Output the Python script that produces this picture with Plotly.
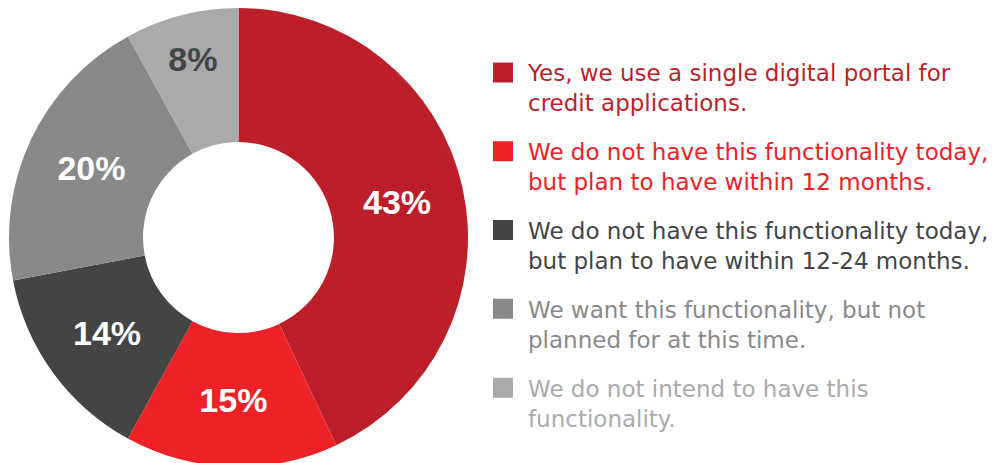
"""Donut chart: use of a single digital portal for credit applications."""

import plotly.graph_objects as go

# Survey answers, clockwise from 12 o'clock
labels = [
    "Yes, we use a single digital portal for<br>credit applications.",
    "We do not have this functionality today,<br>but plan to have within 12 months.",
    "We do not have this functionality today,<br>but plan to have within 12-24 months.",
    "We want this functionality, but not<br>planned for at this time.",
    "We do not intend to have this<br>functionality.",
]
values = [43, 15, 14, 20, 8]
colors = ["#BC1F29", "#EC2227", "#444444", "#898989", "#A9AAAC"]
label_colors = ["#FFFFFF", "#FFFFFF", "#FFFFFF", "#FFFFFF", "#444444"]

W, H = 995, 463
# the html page puts an 8px body margin round the figure; compensate for it
OFF = 8

fig = go.Figure()

fig.add_trace(go.Pie(
    labels=labels,
    values=values,
    sort=False,
    direction="clockwise",
    rotation=0,
    hole=0.416,
    marker=dict(colors=colors, line=dict(width=0)),
    texttemplate="%{value}%",
    textposition="inside",
    insidetextorientation="horizontal",
    textfont=dict(family="Liberation Sans", size=34, color=label_colors, weight="bold"),
    domain=dict(x=[(9 - OFF) / W, (468 - OFF) / W], y=[4 / H, 1]),
    showlegend=False,
    hoverinfo="label+percent",
))

# Legend entries (one group each so we can space them out)
for i, (lab, col) in enumerate(zip(labels, colors)):
    fig.add_trace(go.Scatter(
        x=[None], y=[None],
        mode="markers",
        name=f"<span style='color:{col}'>{lab}</span>",
        legendgroup=f"g{i}",
        marker=dict(symbol="square", size=16, color=col, line=dict(width=4, color=col)),
    ))

fig.update_xaxes(visible=False)
fig.update_yaxes(visible=False)

fig.update_layout(
    width=W,
    height=H,
    margin=dict(l=0, r=0, t=0, b=0),
    paper_bgcolor="white",
    plot_bgcolor="white",
    legend=dict(
        x=470 / W,
        xanchor="left",
        y=1 - 43 / H,
        yanchor="top",
        valign="top",
        traceorder="grouped",
        tracegroupgap=16,
        itemsizing="trace",
        itemwidth=40,
        font=dict(family="DejaVu Sans", size=23, color="#444444"),
        bgcolor="rgba(0,0,0,0)",
        itemclick=False,
        itemdoubleclick=False,
    ),
)

fig.write_html("out.html")
